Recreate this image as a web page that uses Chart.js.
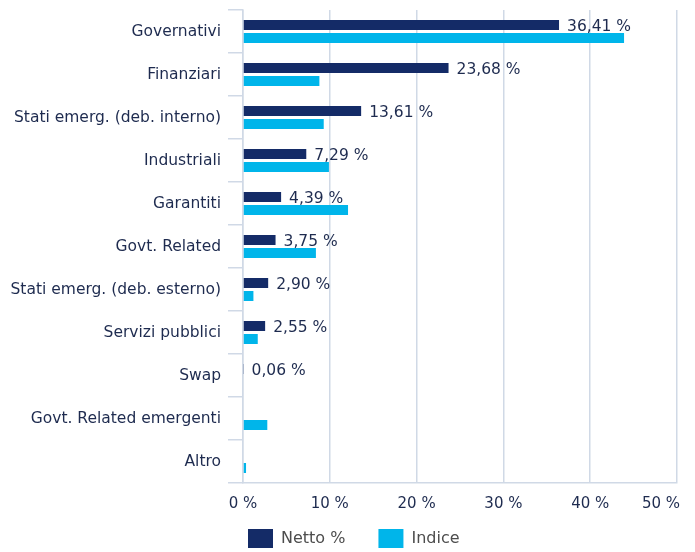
<!DOCTYPE html>
<html>
<head>
<meta charset="utf-8">
<script src="https://cdn.jsdelivr.net/npm/chart.js@4.4.1/dist/chart.umd.min.js"></script>
<style>
html,body{margin:0;padding:0;background:#ffffff;}
#wrap{width:695px;height:552px;position:relative;}
</style>
</head>
<body>
<div id="wrap"><canvas id="c"></canvas></div>
<script>
const categories = [
  "Governativi",
  "Finanziari",
  "Stati emerg. (deb. interno)",
  "Industriali",
  "Garantiti",
  "Govt. Related",
  "Stati emerg. (deb. esterno)",
  "Servizi pubblici",
  "Swap",
  "Govt. Related emergenti",
  "Altro"
];
const nettoValues = [36.41, 23.68, 13.61, 7.29, 4.39, 3.75, 2.90, 2.55, 0.06, null, null];
const indiceValues = [43.9, 8.8, 9.3, 9.9, 12.1, 8.4, 1.2, 1.7, null, 2.8, 0.35];
const xTickValues = [0, 10, 20, 30, 40, 50];
const seriesNames = ["Netto %", "Indice"];

const NAVY = "#142b67";
const CYAN = "#00b5ea";
const TEXT = "#1e2b4f";
const GRID = "#d0d9e6";
const FONT = '"DejaVu Sans", Verdana, sans-serif';

function fmt(v) { return v.toFixed(2).replace(".", ",") + " %"; }

function zeroPadding(scale) {
  scale.paddingTop = 0; scale.paddingBottom = 0;
  scale.paddingLeft = 0; scale.paddingRight = 0;
}

const valueLabels = {
  id: "valueLabels",
  afterDatasetsDraw(chart) {
    const meta = chart.getDatasetMeta(0);
    const ctx = chart.ctx;
    ctx.save();
    ctx.font = "15.5px " + FONT;
    ctx.fillStyle = TEXT;
    ctx.textBaseline = "middle";
    ctx.textAlign = "left";
    meta.data.forEach((bar, i) => {
      const v = nettoValues[i];
      if (v == null) return;
      ctx.fillText(fmt(v), bar.x + 8, bar.y + 1.5);
    });
    ctx.restore();
  }
};

const legendPlacer = {
  id: "legendPlacer",
  afterLayout(chart) {
    const lg = chart.legend;
    if (!lg || !lg.lineWidths) return;
    const pad = lg.options.labels.padding;
    const startX = (lg.left + pad + lg.right - lg.lineWidths[0]) / 2;
    const dx = 248 - startX;
    lg.left += dx; lg.right += dx;
    lg.top = 529 - pad;
    lg.bottom = lg.top + 2 * pad + 20;
  }
};

new Chart(document.getElementById("c"), {
  type: "bar",
  data: {
    labels: categories,
    datasets: [
      { label: seriesNames[0], data: nettoValues, backgroundColor: NAVY, borderWidth: 0,
        categoryPercentage: 0.605, barPercentage: 0.77 },
      { label: seriesNames[1], data: indiceValues, backgroundColor: CYAN, borderWidth: 0,
        categoryPercentage: 0.605, barPercentage: 0.77 }
    ]
  },
  options: {
    indexAxis: "y",
    responsive: true,
    maintainAspectRatio: false,
    animation: false,
    layout: { padding: { top: 10, right: 18, left: 0, bottom: 0 } },
    scales: {
      x: {
        min: 0, max: 50,
        afterBuildTicks(scale) { scale.ticks = xTickValues.map(v => ({ value: v })); },
        afterFit: zeroPadding,
        afterUpdate(scale) {
          if (scale._lastLabelPatched) return;
          scale._lastLabelPatched = true;
          const orig = scale._computeLabelItems;
          scale._computeLabelItems = function (ca) {
            const items = orig.call(this, ca);
            const last = items[items.length - 1];
            if (last) {
              last.options.textAlign = "right";
              last.options.translation[0] = this.right + 3;
            }
            return items;
          };
        },
        ticks: { callback: v => v + " %", color: TEXT, font: { family: FONT, size: 15 }, padding: 12, maxRotation: 0 },
        grid: { color: GRID, lineWidth: 1.5, drawTicks: false },
        border: { color: GRID, width: 1.5 }
      },
      y: {
        afterFit(scale) { zeroPadding(scale); scale.width = 243; },
        ticks: { color: TEXT, font: { family: FONT, size: 15.5 }, padding: 7 },
        grid: { drawOnChartArea: false, tickLength: 15, color: GRID, lineWidth: 1.5, offset: true },
        border: { color: GRID, width: 1.5 }
      }
    },
    plugins: {
      legend: {
        position: "bottom",
        maxHeight: 27,
        labels: { boxWidth: 25, boxHeight: 19, padding: 33, color: "#4d4d4d", font: { family: FONT, size: 16 } }
      },
      tooltip: { enabled: false }
    }
  },
  plugins: [valueLabels, legendPlacer]
});
</script>
</body>
</html>
